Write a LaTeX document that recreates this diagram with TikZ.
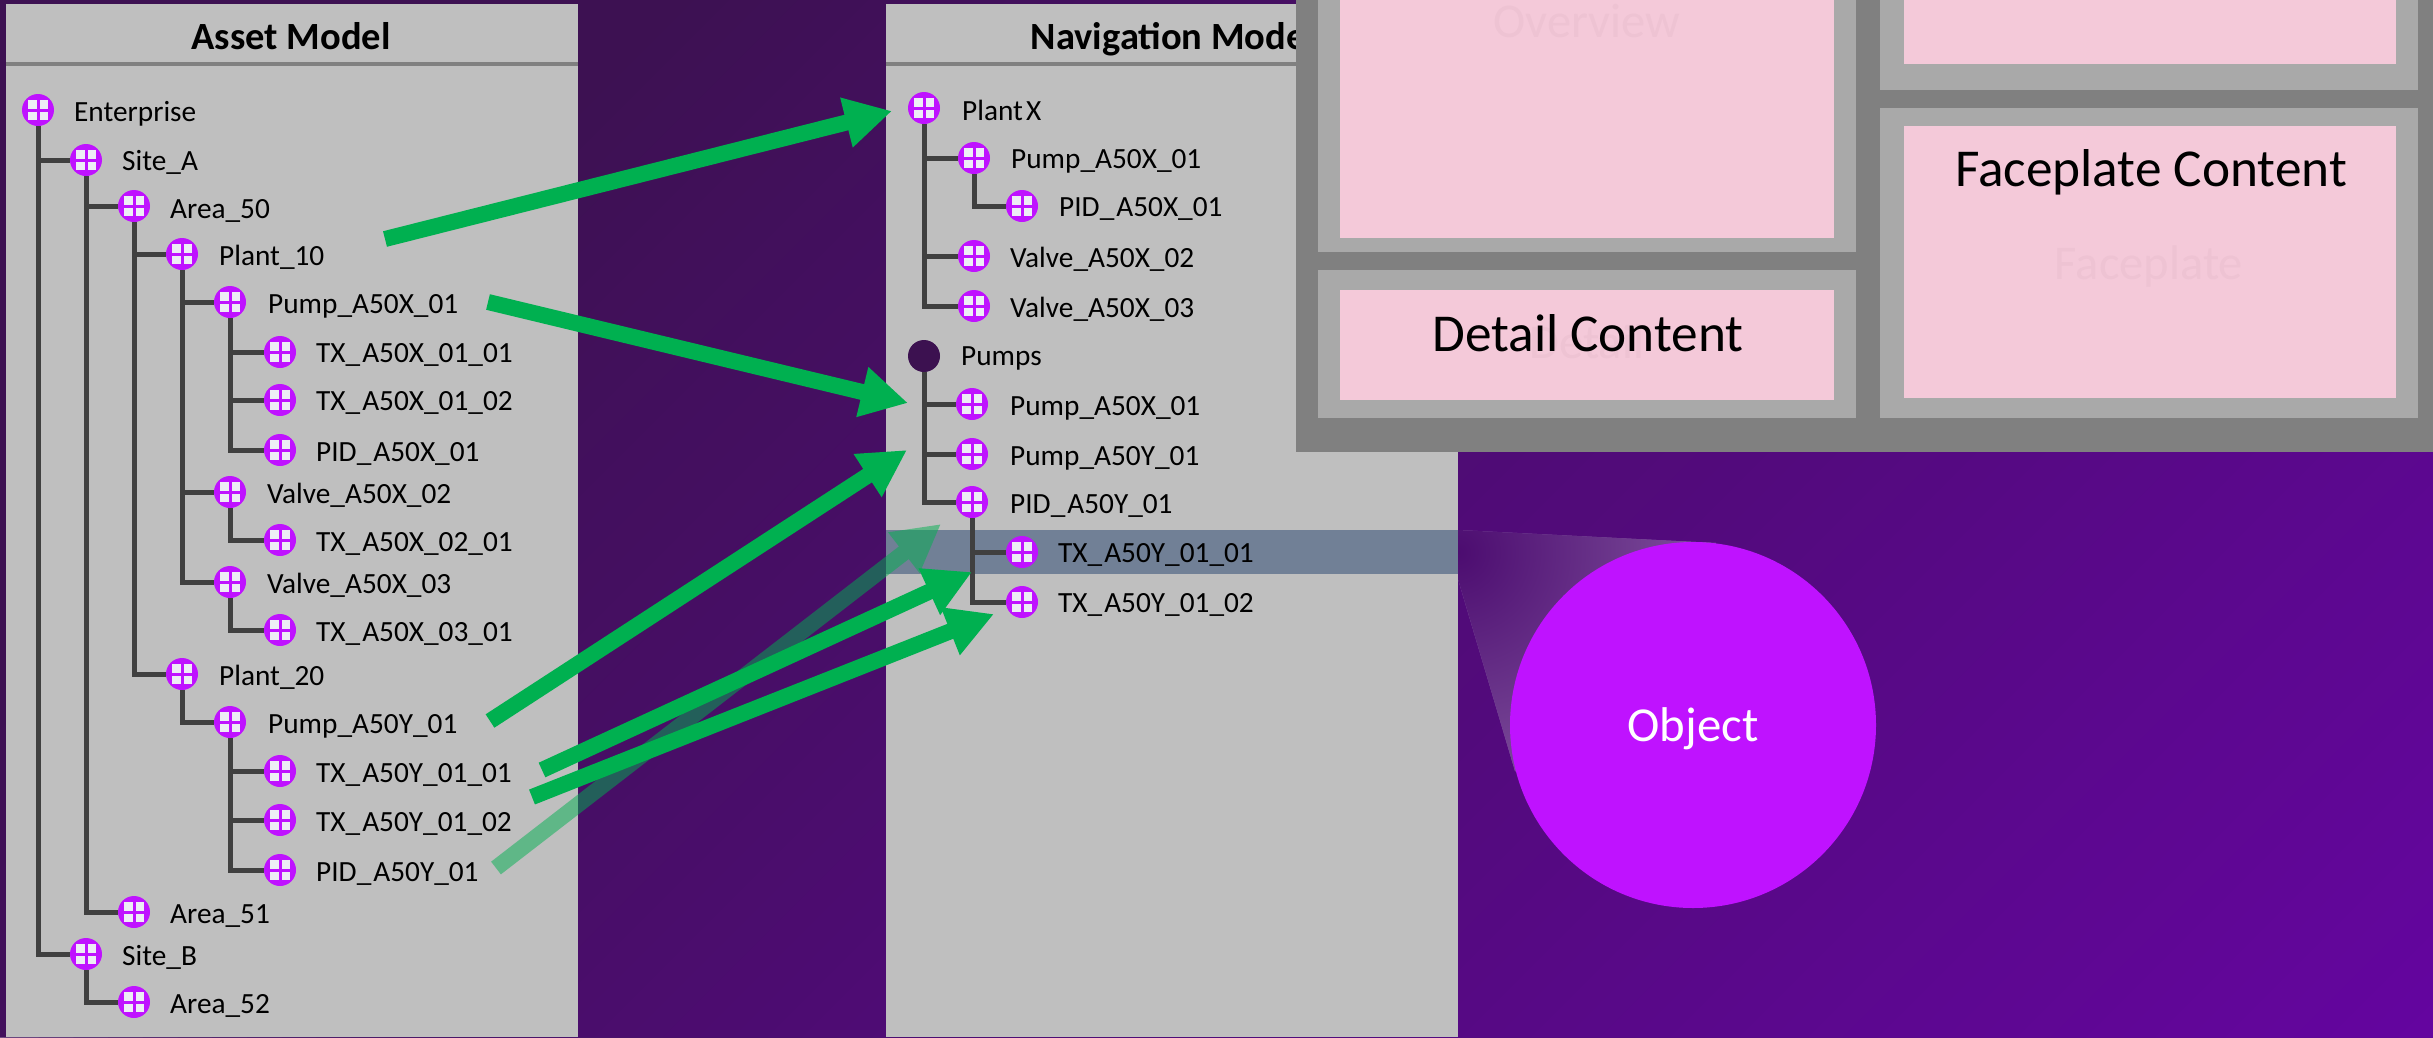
\documentclass[tikz,border=0pt]{standalone}
\usepackage{fontspec}
\setmainfont{Carlito}
\usetikzlibrary{arrows.meta}
\definecolor{bgA}{HTML}{3D1152}
\definecolor{bgB}{HTML}{64059F}
\definecolor{panelgrey}{HTML}{BFBFBF}
\definecolor{ruleg}{HTML}{808080}
\definecolor{midg}{HTML}{A9A9A9}
\definecolor{pinkc}{HTML}{F4C9D9}
\definecolor{faintc}{HTML}{EEC3D3}
\definecolor{magc}{HTML}{BF12FF}
\definecolor{squarec}{HTML}{EDEDF5}
\definecolor{linec}{HTML}{404040}
\definecolor{arrowg}{HTML}{00B050}
\definecolor{hilite}{HTML}{718096}
\definecolor{darkdot}{HTML}{3C1150}
\definecolor{beamA}{HTML}{4C0C70}
\definecolor{beamB}{HTML}{8A60A6}
\tikzset{
  x=1pt,y=-1pt,
  icon/.style={circle,fill=magc,minimum size=32pt,inner sep=0pt,outer sep=0pt,
    path picture={
      \fill[squarec] ([shift={(-10pt,-10pt)}]path picture bounding box.center) rectangle +(8.5pt,8.5pt);
      \fill[squarec] ([shift={(1.5pt,-10pt)}]path picture bounding box.center) rectangle +(8.5pt,8.5pt);
      \fill[squarec] ([shift={(-10pt,1.5pt)}]path picture bounding box.center) rectangle +(8.5pt,8.5pt);
      \fill[squarec] ([shift={(1.5pt,1.5pt)}]path picture bounding box.center) rectangle +(8.5pt,8.5pt);
    }},
  dotnode/.style={circle,fill=darkdot,minimum size=32pt,inner sep=0pt,outer sep=0pt},
  lbl/.style={anchor=base west,inner sep=0pt,font=\fontsize{29.3}{31}\selectfont,text=black},
  head/.style={anchor=base,inner sep=0pt,font=\fontsize{38.5}{40}\selectfont\bfseries,text=black},
  big/.style={anchor=base,inner sep=0pt,font=\fontsize{53.3}{55}\selectfont,text=black},
  faint/.style={anchor=base,inner sep=0pt,font=\fontsize{48.5}{50}\selectfont,text=faintc},
  conn/.style={draw=linec,line width=5pt},
  flow/.style={draw=arrowg,line width=16pt,-{Triangle[length=47pt,width=48pt]}},
}
\newcommand{\treerow}[6]{%
  \node[icon] (#1) at (#2,#3) {};
  \node[lbl] (#1t) at (#4,#5) {#6};}
\newcommand{\nsp}{\hspace{2pt}}
\begin{document}
\begin{tikzpicture}
\useasboundingbox (0,0) rectangle (2433,1037);
% background
\begin{scope}
\clip (0,0) rectangle (2433,1037);
\fill[bgA] (0,0) rectangle (2433,1037);
\foreach \k in {1,...,80}{
  \pgfmathsetmacro{\s}{694+(\k-1)*34.7}
  \pgfmathsetmacro{\q}{\k*1.25}
  \fill[bgB!\q!bgA] (\s,0) -- (3600,0) -- (3600,1037) -- ({\s-1037},1037) -- cycle;
}
\end{scope}
% panels
\fill[panelgrey] (6,4) rectangle (578,1037);
\fill[panelgrey] (886,4) rectangle (1458,1037);
\fill[ruleg] (6,62) rectangle (578,66);
\fill[ruleg] (886,62) rectangle (1458,66);
\fill[hilite] (886,530) rectangle (1458,574);
\node[head] (assethead) at (291,49) {Asset Model};
\node[head] (navhead) at (1173,49) {Navigation Model};
% asset tree
\treerow{e}{38}{110}{74}{121}{Enterprise}
\treerow{sa}{86}{160}{122}{170}{Site\_A}
\treerow{a50}{134}{206}{170}{218}{Area\_50}
\treerow{p10}{182}{254}{219}{265}{Plant\_10}
\treerow{px}{230}{302}{268}{313}{Pump\_A50X\_01}
\treerow{tx1}{280}{352}{316}{362}{TX\_\nsp A50X\_01\_01}
\treerow{tx2}{280}{400}{316}{410}{TX\_\nsp A50X\_01\_02}
\treerow{pidx}{280}{450}{316}{461}{PID\_\nsp A50X\_01}
\treerow{v2}{230}{492}{267}{503}{Valve\_A50X\_02}
\treerow{tv2}{280}{540}{316}{551}{TX\_\nsp A50X\_02\_01}
\treerow{v3}{230}{582}{267}{593}{Valve\_A50X\_03}
\treerow{tv3}{280}{630}{316}{641}{TX\_\nsp A50X\_03\_01}
\treerow{p20}{182}{674}{219}{685}{Plant\_20}
\treerow{py}{230}{722}{268}{733}{Pump\_A50Y\_01}
\treerow{ty1}{280}{771}{316}{782}{TX\_\nsp A50Y\_01\_01}
\treerow{ty2}{280}{820}{316}{831}{TX\_\nsp A50Y\_01\_02}
\treerow{pidy}{280}{870}{316}{881}{PID\_\nsp A50Y\_01}
\treerow{a51}{134}{912}{170}{923}{Area\_51}
\treerow{sb}{86}{954}{122}{965}{Site\_B}
\treerow{a52}{134}{1002}{170}{1013}{Area\_52}
\foreach \p/\c in {e/sa,e/sb,sa/a50,sa/a51,a50/p10,a50/p20,p10/px,p10/v2,p10/v3,px/tx1,px/tx2,px/pidx,v2/tv2,v3/tv3,p20/py,py/ty1,py/ty2,py/pidy,sb/a52}
  \draw[conn] (\p.south) |- (\c.west);
% navigation tree
\treerow{nx}{924}{108}{962}{120}{Plant\hspace{3pt}X}
\treerow{npx}{974}{158}{1011}{168}{Pump\_A50X\_01}
\treerow{npid}{1022}{206}{1059}{216}{PID\_\nsp A50X\_01}
\treerow{nv2}{974}{256}{1010}{267}{Valve\_A50X\_02}
\treerow{nv3}{974}{306}{1010}{317}{Valve\_A50X\_03}
\node[dotnode] (pumps) at (924,356) {};
\node[lbl] (pumpst) at (961,365) {Pumps};
\treerow{mx}{972}{404}{1010}{415}{Pump\_A50X\_01}
\treerow{my}{972}{454}{1010}{465}{Pump\_A50Y\_01}
\treerow{mp}{972}{502}{1010}{513}{PID\_\nsp A50Y\_01}
\treerow{mt1}{1022}{552}{1058}{562}{TX\_\nsp A50Y\_01\_01}
\treerow{mt2}{1022}{602}{1058}{612}{TX\_\nsp A50Y\_01\_02}
\foreach \p/\c in {nx/npx,nx/nv2,nx/nv3,npx/npid,pumps/mx,pumps/my,pumps/mp,mp/mt1,mp/mt2}
  \draw[conn] (\p.south) |- (\c.west);
% beam and object
\begin{scope}
\clip (1458,530) -- (1716,543) -- (1600,800) -- (1515,771) -- (1458,579) -- cycle;
\fill[beamB] (1458,530) rectangle (1720,800);
\shade[inner color=beamA,outer color=beamB] (1458,552) circle (310);
\end{scope}
\node[circle,fill=magc,minimum size=366pt,inner sep=0pt] (obj) at (1693,725) {};
\node[anchor=base,inner sep=0pt,text=white,font=\fontsize{48.8}{50}\selectfont] (objt) at (1693,741) {Object};
% overlay frame
\fill[ruleg] (1296,0) rectangle (2433,452);
\fill[midg] (1318,0) rectangle (1856,252);
\fill[pinkc] (1340,0) rectangle (1834,238);
\fill[midg] (1318,270) rectangle (1856,418);
\fill[pinkc] (1340,290) rectangle (1834,400);
\fill[midg] (1880,0) rectangle (2418,90);
\fill[pinkc] (1904,0) rectangle (2396,64);
\fill[midg] (1880,108) rectangle (2418,418);
\fill[pinkc] (1904,126) rectangle (2396,398);
\node[faint] (ovw) at (1587,37) {Overview};
\node[faint] (fpf) at (2149,279) {Faceplate};
\node[faint] (dtf) at (1587,358) {Detail};
\node[big] (dc) at (1588,351) {Detail Content};
\node[big] (fc) at (2151,186) {Faceplate Content};
% arrows
\coordinate (t1) at (385,239); \coordinate (h1) at (892,111);
\coordinate (t2) at (488,302); \coordinate (h2) at (908,403);
\coordinate (t3) at (490,721); \coordinate (h3) at (907,450);
\coordinate (t4) at (542,770); \coordinate (h4) at (972,572);
\coordinate (t5) at (532,797); \coordinate (h5) at (994,614);
\coordinate (t6) at (496,868); \coordinate (h6) at (941,524);
\begin{scope}[transparency group,opacity=.5]
\draw[flow] (t6) -- (h6);
\end{scope}
\draw[flow] (t1) -- (h1);
\draw[flow] (t2) -- (h2);
\draw[flow] (t3) -- (h3);
\draw[flow] (t4) -- (h4);
\draw[flow] (t5) -- (h5);
\end{tikzpicture}
\end{document}
